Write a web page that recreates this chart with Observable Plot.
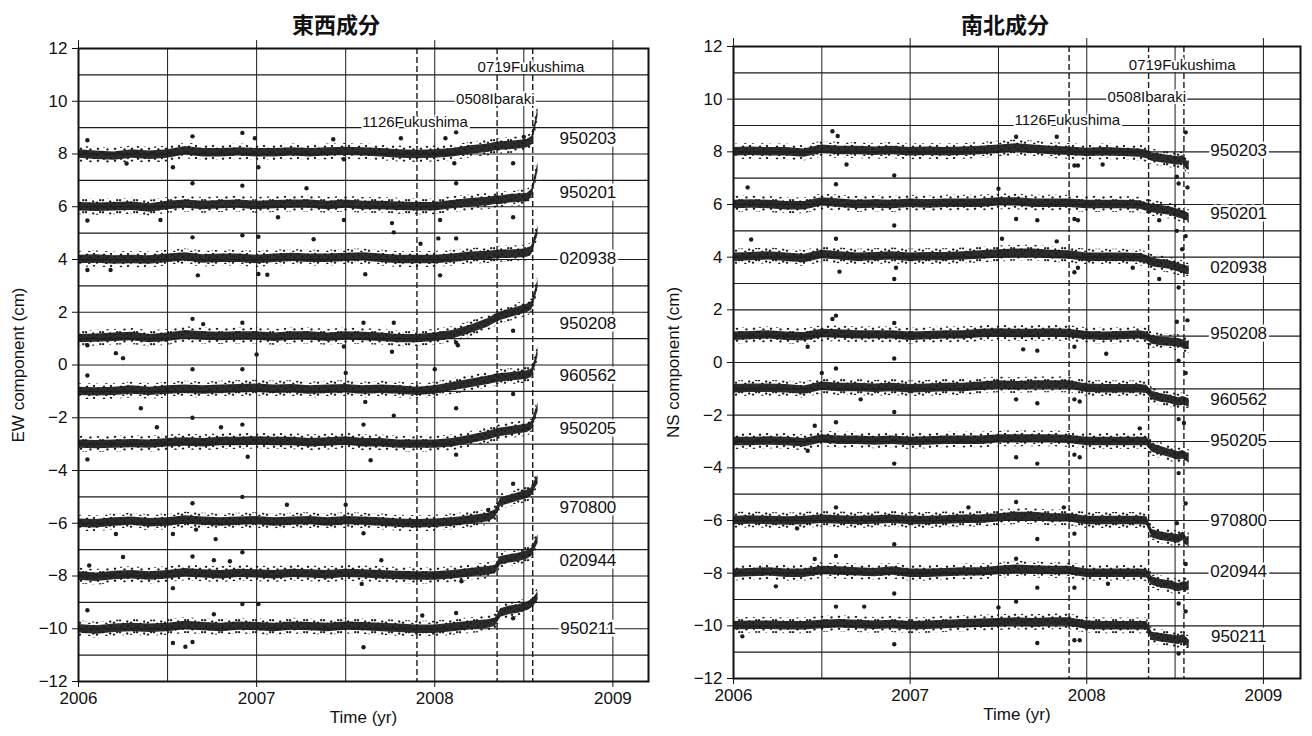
<!DOCTYPE html>
<html><head><meta charset="utf-8">
<script src="https://cdn.jsdelivr.net/npm/d3@7"></script>
<script src="https://cdn.jsdelivr.net/npm/@observablehq/plot@0.6"></script>
<style>
body{margin:0;background:#fff;width:1312px;height:736px;overflow:hidden;position:relative;font-family:"Liberation Sans",Arial,sans-serif;}
.title{position:absolute;top:8px;line-height:30px;font-weight:bold;font-size:22px;font-family:"Noto Sans CJK JP","Noto Sans CJK SC",sans-serif;color:#111;transform:translateX(-50%);white-space:nowrap;}
.panel{position:absolute;top:36px;}
</style></head><body>
<div class="title" style="left:336px">東西成分</div>
<div class="title" style="left:1005px">南北成分</div>
<div class="panel" id="ew" style="left:0px"></div>
<div class="panel" id="ns" style="left:656px"></div>
<script>
// ---------- data ----------
const stations = ["950203","950201","020938","950208","960562","950205","970800","020944","950211"];
const T = [2006.0,2006.1,2006.2,2006.3,2006.4,2006.5,2006.6,2006.7,2006.8,2006.9,
           2007.0,2007.1,2007.2,2007.3,2007.4,2007.5,2007.6,2007.7,2007.8,2007.9,
           2008.0,2008.1,2008.2,2008.3,2008.34,2008.37,2008.42,2008.47,2008.52,2008.545,2008.565,2008.58];

// EW component (cm)
const ew_950203 = [8.0,7.95,7.92,8.0,7.95,8.0,8.12,8.05,8.05,8.08,8.05,8.05,8.08,8.05,8.08,8.1,8.08,8.05,8.0,7.98,8.0,8.05,8.15,8.22,8.28,8.3,8.32,8.35,8.4,8.5,9.1,9.6];
const ew_950201 = [6.0,5.98,6.0,6.02,5.95,6.05,6.1,6.05,6.08,6.1,6.05,6.08,6.1,6.1,6.05,6.1,6.05,6.05,6.02,6.0,6.0,6.08,6.15,6.2,6.25,6.25,6.3,6.32,6.35,6.5,7.1,7.5];
const ew_020938 = [4.0,4.02,3.98,4.0,3.98,4.05,4.1,4.02,4.05,4.05,4.0,4.05,4.08,4.05,4.05,4.08,4.1,4.05,4.0,4.0,4.0,4.05,4.12,4.15,4.18,4.2,4.2,4.22,4.25,4.35,4.8,5.1];
const ew_950208 = [1.0,1.02,1.05,1.08,1.0,1.05,1.15,1.1,1.08,1.1,1.1,1.05,1.1,1.1,1.05,1.1,1.08,1.05,1.0,1.0,1.05,1.15,1.35,1.6,1.75,1.85,1.95,2.05,2.15,2.25,2.7,3.1];
const ew_960562 = [-1.0,-1.02,-1.0,-0.95,-1.0,-0.95,-0.92,-0.95,-0.92,-0.9,-0.88,-0.92,-0.9,-0.95,-0.92,-0.9,-0.95,-0.92,-0.95,-1.0,-0.95,-0.82,-0.7,-0.58,-0.52,-0.48,-0.45,-0.42,-0.38,-0.3,0.1,0.5];
const ew_950205 = [-3.0,-3.02,-3.0,-2.98,-3.0,-2.95,-2.92,-2.95,-2.9,-2.9,-2.88,-2.9,-2.9,-2.95,-2.92,-2.88,-2.95,-2.95,-3.0,-3.0,-3.0,-2.95,-2.82,-2.68,-2.6,-2.55,-2.5,-2.45,-2.4,-2.3,-1.9,-1.6];
const ew_970800 = [-6.0,-6.02,-5.95,-5.92,-5.98,-5.95,-5.88,-5.92,-5.95,-5.92,-5.9,-5.95,-5.92,-5.9,-5.95,-5.9,-5.92,-5.95,-6.0,-6.02,-6.0,-5.95,-5.88,-5.78,-5.65,-5.2,-5.1,-5.0,-4.9,-4.8,-4.5,-4.35];
const ew_020944 = [-8.0,-8.05,-7.98,-7.95,-8.0,-7.95,-7.88,-7.92,-7.95,-7.9,-7.92,-7.95,-7.9,-7.92,-7.95,-7.9,-7.92,-7.95,-7.98,-8.0,-8.0,-7.95,-7.88,-7.8,-7.75,-7.42,-7.35,-7.3,-7.2,-7.1,-6.8,-6.6];
const ew_950211 = [-10.0,-10.05,-9.98,-9.95,-9.98,-9.95,-9.88,-9.92,-9.95,-9.9,-9.92,-9.95,-9.9,-9.92,-9.95,-9.9,-9.92,-9.95,-9.98,-10.02,-10.02,-9.95,-9.88,-9.82,-9.75,-9.4,-9.3,-9.25,-9.15,-9.05,-8.9,-8.75];

// NS component (cm)
const ns_950203 = [8.0,8.02,8.0,8.0,7.95,8.1,8.05,8.05,8.02,8.05,8.0,8.02,8.0,8.02,8.05,8.1,8.15,8.1,8.05,8.02,7.98,8.0,7.98,7.95,7.9,7.8,7.75,7.7,7.65,7.7,7.5,7.45];
const ns_950201 = [6.0,6.02,6.0,5.95,5.95,6.1,6.05,6.0,6.02,6.0,6.05,6.02,6.05,6.05,6.05,6.1,6.1,6.05,6.05,6.05,6.0,6.0,6.0,5.98,5.9,5.85,5.8,5.75,5.65,5.6,5.55,5.5];
const ns_020938 = [4.0,4.02,4.05,4.0,3.95,4.1,4.05,4.0,4.02,4.05,4.0,4.02,4.02,4.05,4.08,4.12,4.15,4.15,4.1,4.08,4.0,4.0,4.0,3.98,3.9,3.8,3.75,3.7,3.6,3.55,3.5,3.5];
const ns_950208 = [1.0,1.02,1.05,1.0,0.98,1.1,1.08,1.05,1.05,1.05,1.0,1.02,1.05,1.05,1.1,1.12,1.1,1.1,1.12,1.1,1.02,1.0,1.02,1.05,1.0,0.85,0.8,0.78,0.75,0.7,0.65,0.65];
const ns_960562 = [-1.0,-0.98,-0.98,-1.0,-1.05,-0.9,-0.95,-0.95,-0.98,-0.95,-1.0,-0.98,-0.95,-0.95,-0.9,-0.85,-0.88,-0.85,-0.85,-0.85,-0.98,-1.0,-1.0,-1.0,-1.02,-1.25,-1.35,-1.4,-1.5,-1.45,-1.5,-1.55];
const ns_950205 = [-3.0,-3.0,-2.98,-3.0,-3.05,-2.9,-2.95,-2.95,-2.98,-2.95,-3.0,-2.98,-2.95,-2.95,-2.95,-2.9,-2.9,-2.9,-2.9,-2.92,-3.0,-3.0,-3.0,-3.0,-3.0,-3.25,-3.35,-3.45,-3.55,-3.5,-3.6,-3.6];
const ns_970800 = [-6.0,-5.98,-6.0,-6.02,-6.0,-5.95,-5.98,-6.0,-5.98,-5.95,-6.0,-6.0,-5.98,-5.95,-5.95,-5.9,-5.85,-5.85,-5.9,-5.9,-6.0,-6.0,-6.0,-6.0,-6.02,-6.5,-6.6,-6.65,-6.7,-6.6,-6.8,-6.75];
const ns_020944 = [-8.0,-7.98,-7.95,-8.0,-8.0,-7.9,-7.92,-7.95,-7.98,-7.92,-8.0,-8.0,-7.98,-7.95,-7.95,-7.9,-7.85,-7.88,-7.9,-7.9,-8.0,-8.0,-8.0,-8.0,-8.02,-8.3,-8.4,-8.45,-8.55,-8.5,-8.5,-8.5];
const ns_950211 = [-10.0,-9.98,-9.98,-10.0,-10.0,-9.95,-9.92,-9.95,-9.98,-9.95,-10.0,-9.98,-9.95,-9.92,-9.9,-9.88,-9.85,-9.88,-9.85,-9.85,-9.98,-10.0,-10.0,-10.0,-10.0,-10.4,-10.45,-10.5,-10.55,-10.5,-10.6,-10.7];

// scattered points away from the dense cloud [time, value]
const ewOutliers = [
 [2006.05,8.52],[2006.27,7.64],[2006.53,7.5],[2006.64,8.67],[2006.92,8.8],[2007.01,7.5],[2006.99,8.6],[2008.12,8.82],[2008.06,8.6],[2008.11,7.65],[2008.44,7.65],[2007.81,8.6],[2007.43,8.56],[2007.49,7.8],[2008.5,8.65],
 [2006.05,5.48],[2006.64,6.89],[2006.92,6.8],[2006.46,5.5],[2008.12,6.89],[2007.77,5.03],[2007.76,5.38],[2007.49,5.5],[2007.28,6.7],[2008.03,5.5],[2007.12,5.6],[2008.44,5.6],
 [2006.67,3.4],[2006.64,4.84],[2006.92,4.92],[2007.01,4.86],[2007.01,3.45],[2007.06,3.42],[2007.61,3.44],[2008.03,3.4],[2008.12,4.8],[2008.02,4.8],[2007.32,4.77],[2006.05,3.6],[2006.18,3.6],[2007.92,4.6],
 [2006.25,0.26],[2006.21,0.45],[2006.64,1.75],[2006.7,1.55],[2006.92,1.6],[2007.0,0.4],[2007.6,1.6],[2007.49,0.7],[2007.76,0.5],[2008.12,0.85],[2008.13,0.75],[2008.44,1.3],[2007.77,1.6],[2006.05,0.75],
 [2006.64,-0.16],[2006.92,-0.16],[2007.5,-0.3],[2008.12,-1.64],[2006.35,-1.64],[2007.61,-1.4],[2008.0,-0.16],[2008.44,-1.1],[2006.05,-0.4],
 [2006.05,-3.58],[2006.64,-2.0],[2006.44,-2.36],[2006.92,-2.26],[2006.95,-3.48],[2007.77,-1.92],[2007.6,-2.26],[2007.64,-3.61],[2008.12,-3.4],[2006.8,-2.36],
 [2006.21,-6.41],[2006.53,-6.41],[2006.64,-5.24],[2006.77,-6.6],[2006.92,-5.0],[2007.17,-5.3],[2007.5,-5.3],[2007.6,-6.38],[2006.66,-6.24],[2008.3,-5.5],[2008.44,-4.5],
 [2006.25,-7.28],[2006.53,-8.46],[2006.64,-7.26],[2006.76,-7.4],[2006.92,-7.1],[2006.85,-7.44],[2007.59,-8.3],[2007.7,-7.4],[2008.15,-8.2],[2006.06,-7.6],
 [2006.05,-9.3],[2006.53,-10.54],[2006.6,-10.68],[2006.64,-10.5],[2006.92,-9.06],[2007.01,-9.06],[2006.76,-9.45],[2007.6,-10.7],[2007.93,-9.5],[2008.12,-9.4],[2008.44,-9.6]
];
const nsOutliers = [
 [2006.56,8.78],[2006.59,8.6],[2006.91,7.1],[2007.93,7.48],[2007.95,7.48],[2008.09,7.52],[2008.56,8.74],[2008.51,7.06],[2007.83,8.57],[2007.6,8.57],[2006.64,7.52],
 [2006.08,6.65],[2006.58,6.77],[2006.91,5.2],[2007.93,5.45],[2007.95,5.4],[2007.6,5.45],[2007.72,5.4],[2008.51,5.0],[2008.56,4.8],[2008.52,6.8],[2008.57,6.65],[2008.41,5.4],[2007.5,6.6],
 [2006.1,4.67],[2006.91,3.17],[2006.92,3.6],[2006.58,4.7],[2006.6,3.45],[2007.93,3.43],[2007.95,3.6],[2008.52,2.85],[2008.41,3.17],[2008.26,3.6],[2007.52,4.7],[2007.83,4.6],[2008.54,4.3],
 [2006.58,1.78],[2006.56,1.65],[2008.11,0.33],[2007.64,0.5],[2007.72,0.45],[2007.93,0.6],[2008.52,0.07],[2008.51,1.55],[2008.57,1.6],[2006.42,0.6],[2006.91,1.5],[2006.91,0.15],
 [2006.58,-0.23],[2006.5,-0.4],[2006.72,-1.4],[2007.6,-1.4],[2007.72,-1.55],[2007.93,-1.4],[2007.96,-1.48],[2008.56,-0.4],[2008.52,-2.15],[2008.55,-2.3],[2006.91,-1.88],
 [2006.46,-2.4],[2006.58,-2.27],[2006.91,-3.84],[2007.72,-3.84],[2007.6,-3.6],[2007.93,-3.5],[2007.96,-3.6],[2008.52,-4.2],[2006.42,-3.35],[2008.3,-2.5],
 [2006.58,-5.5],[2007.33,-5.5],[2007.6,-5.3],[2007.72,-6.7],[2006.91,-6.9],[2007.93,-6.5],[2008.56,-5.35],[2008.51,-6.1],[2006.36,-6.3],[2007.87,-5.5],
 [2006.46,-7.46],[2006.58,-7.35],[2006.91,-8.77],[2006.24,-8.5],[2007.6,-7.45],[2007.72,-8.55],[2007.93,-8.55],[2008.12,-8.4],[2008.52,-9.15],[2008.56,-7.65],
 [2006.05,-10.4],[2006.58,-9.27],[2006.74,-9.27],[2006.91,-10.7],[2007.6,-9.08],[2007.5,-9.3],[2007.72,-10.65],[2007.93,-10.55],[2007.96,-10.55],[2008.52,-11.05],[2008.56,-9.45]
];

// earthquakes
const quakeNames = ["1126Fukushima","0508Ibaraki","0719Fukushima"];
const quakeTimes = [2007.9, 2008.35, 2008.55];
const quakeLabelT = [2007.89, 2008.34, 2008.54];
const quakeLabelV = [9.22, 10.08, 11.3];

// station label placement (value axis)
const ewLabelV = [8.6, 6.55, 4.05, 1.58, -0.4, -2.4, -5.4, -7.4, -10.0];
const nsLabelV = [8.05, 5.66, 3.6, 1.1, -1.4, -2.95, -6.0, -7.95, -10.4];
const labelT = 2008.86;

// axes & grid
const xTicks = [2006, 2007, 2008, 2009];
const yTicks = [-12,-10,-8,-6,-4,-2,0,2,4,6,8,10,12];
const xGrid = [2006, 2006.5, 2007, 2007.5, 2008, 2008.5, 2009];
const yGrid = [-12,-11,-10,-9,-8,-7,-6,-5,-4,-3,-2,-1,0,1,2,3,4,5,6,7,8,9,10,11,12];
const coreHalf = 0.16, outerHalf = 0.3;

// ---------- build ----------
function rows(series) {
  const out = [];
  stations.forEach((s, k) => T.forEach((t, i) => out.push({s, t, v: series[k][i]})));
  return out;
}

// irregular speckle texture for the sparse fringe of the dot cloud
const speckleTile = "M2 1.5a1.2 1.2 0 1 0 .01 0M9 0.8a1.2 1.2 0 1 0 .01 0M5.5 4.2a1.2 1.2 0 1 0 .01 0M13 3.5a1.2 1.2 0 1 0 .01 0M1 7a1.2 1.2 0 1 0 .01 0M8.2 8.3a1.2 1.2 0 1 0 .01 0M12 9.4a1.2 1.2 0 1 0 .01 0M4.3 10.6a1.2 1.2 0 1 0 .01 0M15.2 6.9a1.2 1.2 0 1 0 .01 0";

function panel({id, series, outliers, labelV, yLabel, xMax, mL, mR, mT, mB}) {
  const data = rows(series);
  const ink = "#1c1c1c";
  const pat = "speckle-" + id;
  const svg = Plot.plot({
    width: 656, height: 700,
    marginLeft: mL, marginRight: mR, marginTop: mT, marginBottom: mB,
    x: {domain: [2006, xMax]},
    y: {domain: [-12, 12]},
    style: {fontFamily: "'Liberation Sans', Arial, sans-serif", fontSize: "17px", color: "#111", background: "white", overflow: "visible"},
    marks: [
      Plot.ruleX(xGrid, {stroke: ink, strokeWidth: 1}),
      Plot.ruleY(yGrid, {stroke: ink, strokeWidth: 1.2}),
      Plot.ruleX(xTicks, {y1: 12, y2: 12.3, stroke: ink, strokeWidth: 1}),
      Plot.ruleX(quakeTimes, {stroke: ink, strokeWidth: 1.4, strokeDasharray: "6,3"}),
      Plot.areaY(data, {x: "t", y1: d => d.v - outerHalf, y2: d => d.v + outerHalf, z: "s", fill: `url(#${pat})`}),
      Plot.areaY(data, {x: "t", y1: d => d.v - coreHalf, y2: d => d.v + coreHalf, z: "s", fill: ink, fillOpacity: 0.93}),
      Plot.dot(outliers, {x: d => d[0], y: d => d[1], r: 2.2, fill: ink}),
      Plot.text(quakeNames, {x: (d, i) => quakeLabelT[i], y: (d, i) => quakeLabelV[i], text: d => d,
        fontSize: 15, fill: "#111", stroke: "white", strokeWidth: 4, paintOrder: "stroke"}),
      Plot.text(stations, {x: () => labelT, y: (d, i) => labelV[i], text: d => d,
        fontSize: 17, fill: "#111", stroke: "white", strokeWidth: 5, paintOrder: "stroke"}),
      Plot.frame({stroke: "#111", strokeWidth: 2}),
      Plot.axisY({ticks: yTicks, tickSize: 6, tickPadding: 5, label: null, fontSize: 17}),
      Plot.axisX({ticks: xTicks, tickFormat: d => String(d), tickSize: 6, tickPadding: 4, label: null, fontSize: 17}),
      Plot.text([yLabel], {frameAnchor: "left", textAnchor: "middle", dx: -60, rotate: -90, fontSize: 17, fill: "#111"}),
      Plot.text(["Time (yr)"], {frameAnchor: "bottom", textAnchor: "middle", dy: 41, fontSize: 17, fill: "#111"})
    ]
  });
  svg.insertAdjacentHTML("afterbegin",
    `<defs><pattern id="${pat}" patternUnits="userSpaceOnUse" width="17" height="12">` +
    `<path d="${speckleTile}" fill="${ink}"/></pattern></defs>`);
  return svg;
}

document.getElementById("ew").append(panel({
  id: "ew",
  series: [ew_950203, ew_950201, ew_020938, ew_950208, ew_960562, ew_950205, ew_970800, ew_020944, ew_950211],
  outliers: ewOutliers, labelV: ewLabelV, yLabel: "EW component (cm)",
  xMax: 2009.2, mL: 78, mR: 8, mT: 12, mB: 55
}));
document.getElementById("ns").append(panel({
  id: "ns",
  series: [ns_950203, ns_950201, ns_020938, ns_950208, ns_960562, ns_950205, ns_970800, ns_020944, ns_950211],
  outliers: nsOutliers, labelV: nsLabelV, yLabel: "NS component (cm)",
  xMax: 2009.21, mL: 77, mR: 12, mT: 10, mB: 58
}));
</script></body></html>
